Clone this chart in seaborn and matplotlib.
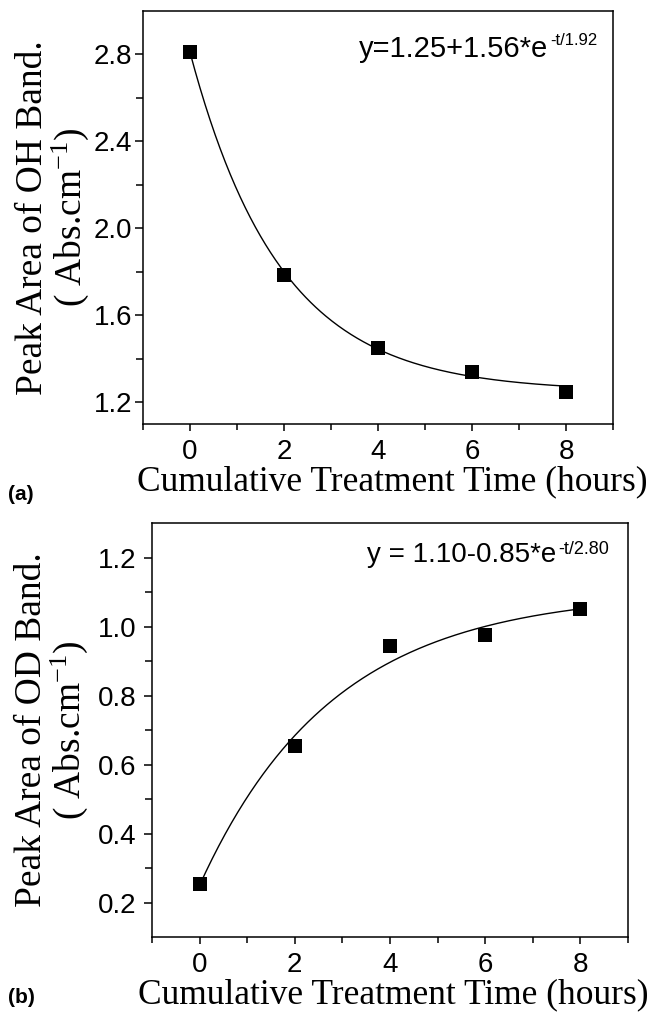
import numpy as np
import matplotlib
matplotlib.use("Agg")
import matplotlib.pyplot as plt
import seaborn as sns
import pandas as pd

# ---------------- data ----------------
time_h = [0, 2, 4, 6, 8]
oh_area = [2.81, 1.785, 1.45, 1.34, 1.245]
od_area = [0.255, 0.653, 0.943, 0.974, 1.051]

# exponential fit parameters shown on the chart: y = a + b*exp(-t/tau)
oh_fit = {"a": 1.25, "b": 1.56, "tau": 1.92}
od_fit = {"a": 1.10, "b": -0.85, "tau": 2.80}

x_major = [0, 2, 4, 6, 8]
x_minor = [-1, 1, 3, 5, 7, 9]
oh_yticks = [1.2, 1.6, 2.0, 2.4, 2.8]
oh_yminor = [1.4, 1.8, 2.2, 2.6]
od_yticks = [0.2, 0.4, 0.6, 0.8, 1.0, 1.2]
od_yminor = [0.3, 0.5, 0.7, 0.9, 1.1]

xlabel = "Cumulative Treatment Time (hours)"
oh_ylabel = "Peak Area of OH Band.\n( Abs.cm$^{-1}$)"
od_ylabel = "Peak Area of OD Band.\n( Abs.cm$^{-1}$)"
oh_eq_main, oh_eq_sup = "y=1.25+1.56*e", "-t/1.92"
od_eq_main, od_eq_sup = "y = 1.10-0.85*e", "-t/2.80"

# ---------------- style ----------------
sns.set_theme(style="ticks")
plt.rcParams["font.family"] = ["Liberation Sans", "DejaVu Sans"]
plt.rcParams["mathtext.default"] = "regular"
plt.rcParams["axes.linewidth"] = 1.1
plt.rcParams["axes.edgecolor"] = "black"

W, H = 650, 1013
fig = plt.figure(figsize=(W / 100, H / 100), dpi=100)
fig.patch.set_facecolor("white")

ax1 = fig.add_axes([143 / W, 1 - 424 / H, 470 / W, 413 / H])
ax2 = fig.add_axes([152 / W, 1 - 937 / H, 476 / W, 414 / H])

serif = ["Liberation Serif", "DejaVu Serif"]


def draw(ax, y, fit, ylim, yt, ym, ylab, eq_main, eq_sup, eq_pos, eq_size,
         sup_size, ylab_x, xlab_x, ylab_pad):
    t = np.linspace(0, 8, 300)
    curve = pd.DataFrame({"t": t, "y": fit["a"] + fit["b"] * np.exp(-t / fit["tau"])})
    sns.lineplot(data=curve, x="t", y="y", ax=ax, color="black", lw=1.0)
    pts = pd.DataFrame({"t": time_h, "y": y})
    sns.scatterplot(data=pts, x="t", y="y", ax=ax, marker="s", s=105,
                    color="black", linewidth=0, zorder=3)
    ax.set_xlim(-1, 9)
    ax.set_ylim(*ylim)
    ax.set_xticks(x_major)
    ax.set_xticks(x_minor, minor=True)
    ax.set_yticks(yt)
    ax.set_yticks(ym, minor=True)
    ax.set_xticklabels([str(v) for v in x_major])
    ax.set_yticklabels([f"{v:.1f}" for v in yt])
    ax.tick_params(axis="both", which="both", direction="out", colors="black",
                   labelsize=20, width=1.1)
    ax.tick_params(axis="x", which="major", length=5, pad=6)
    ax.tick_params(axis="x", which="minor", length=4)
    ax.tick_params(axis="y", which="major", length=6, pad=ylab_pad)
    ax.tick_params(axis="y", which="minor", length=5)
    for s in ax.spines.values():
        s.set_visible(True)
        s.set_color("black")
    ax.set_xlabel(xlabel, fontsize=25.5, family=serif, color="black")
    ax.set_ylabel(ylab, fontsize=27, family=serif, color="black",
                  linespacing=1.0)
    ax.xaxis.set_label_coords(xlab_x, -0.1)
    ax.yaxis.set_label_coords(ylab_x, 0.5)
    main = ax.text(eq_pos[0], eq_pos[1], eq_main, transform=ax.transAxes,
                   fontsize=eq_size, ha="left", va="baseline", color="black")
    ax.annotate(eq_sup, xy=(1, 1), xycoords=main, xytext=(1, 1),
                textcoords="offset points", ha="left", va="top",
                fontsize=sup_size, color="black")


draw(ax1, oh_area, oh_fit, (1.1, 3.0), oh_yticks, oh_yminor, oh_ylabel,
     oh_eq_main, oh_eq_sup, (0.46, 0.889), 21, 12, -0.11, 0.53, 2)
draw(ax2, od_area, od_fit, (0.1, 1.3), od_yticks, od_yminor, od_ylabel,
     od_eq_main, od_eq_sup, (0.452, 0.906), 20, 13, -0.13, 0.506, 5)

fig.text(8 / W, 1 - 500 / H, "(a)", fontsize=15, fontweight="bold",
         ha="left", va="baseline", color="black")
fig.text(8 / W, 1 - 1003 / H, "(b)", fontsize=15, fontweight="bold",
         ha="left", va="baseline", color="black")

fig.savefig("out.png", dpi=100, facecolor="white")
